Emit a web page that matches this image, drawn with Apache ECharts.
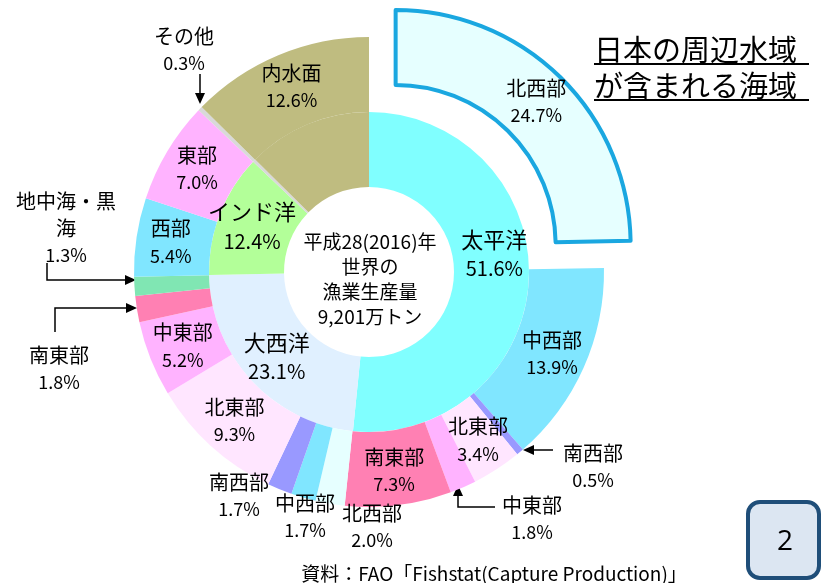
<!DOCTYPE html>
<html><head><meta charset="utf-8">
<script src="https://cdn.jsdelivr.net/npm/echarts@6/dist/echarts.min.js"></script>
<style>html,body{margin:0;padding:0;background:#fff}#c{width:821px;height:583px}</style>
</head><body><div id="c"></div>
<script>
// ---- data ----
const innerNames = ['太平洋', '大西洋', 'インド洋', 'その他', '内水面'];
const innerValues = [51.6, 23.1, 12.4, 0.3, 12.6];
const pacificNames = ['北西部', '中西部', '南西部', '北東部', '中東部', '南東部'];
const pacificValues = [24.7, 13.9, 0.5, 3.4, 1.8, 7.3];
const atlanticNames = ['北西部', '中西部', '南西部', '北東部', '中東部', '南東部', '地中海・黒海'];
const atlanticValues = [2.0, 1.7, 1.7, 9.3, 5.2, 1.8, 1.3];
const indianNames = ['西部', '東部'];
const indianValues = [5.4, 7.0];
const otherName = 'その他', otherValue = 0.3;
const inlandName = '内水面', inlandValue = 12.6;
const centerLines = ['平成28(2016)年', '世界の', '漁業生産量', '9,201万トン'];
const titleLines = ['日本の周辺水域', 'が含まれる海域'];
const sourceText = '資料：FAO「Fishstat(Capture Production)」';
const pageNumber = '2';

// ---- styles ----
const innerColors = {'太平洋': '#80ffff', '大西洋': '#e0f0ff', 'インド洋': '#b3ff99', 'その他': '#d9d9d9', '内水面': '#bfbc80'};
const subColors = {'北西部': '#e6ffff', '中西部': '#80e6ff', '南西部': '#9999ff', '北東部': '#ffe6ff',
  '中東部': '#ffb3ff', '南東部': '#ff80b3', '地中海・黒海': '#80e6b3', '西部': '#80e6ff', '東部': '#ffb3ff'};
const displayName = {'地中海・黒海': '地中海・黒\n海'};
const FONT = "'Noto Sans CJK JP',sans-serif";
const CX = 369, CY = 272;
const extPos = {
  'P-中東部': [532, 519], 'P-南西部': [593, 467],
  'A-北西部': [372, 527], 'A-中西部': [305, 517], 'A-南西部': [239, 496],
  'A-南東部': [59, 369], 'A-地中海・黒海': [66, 228], 'X-その他': [184, 50]
};

const innerData = innerNames.map((n, i) => ({
  name: n, disp: n, value: innerValues[i],
  itemStyle: {color: innerColors[n]},
  label: {show: !(n === 'その他' || n === '内水面')}
}));

const outerData = [];
const addItem = (prefix, n, v, color) => outerData.push({name: prefix + n, disp: n, value: v, itemStyle: {color: color}});
pacificNames.forEach((n, i) => addItem('P-', n, pacificValues[i], subColors[n]));
atlanticNames.forEach((n, i) => addItem('A-', n, atlanticValues[i], subColors[n]));
indianNames.forEach((n, i) => addItem('I-', n, indianValues[i], subColors[n]));
addItem('X-', otherName, otherValue, innerColors['その他']);
addItem('X-', inlandName, inlandValue, innerColors['内水面']);
// Pacific north-west: exploded, framed
const nw = outerData[0];
nw.selected = true;
nw.itemStyle = {color: '#e6ffff', borderColor: '#1aa7e0', borderWidth: 4, borderJoin: 'round'};
nw.select = {itemStyle: {color: '#e6ffff', borderColor: '#1aa7e0', borderWidth: 4}};

const fmt = p => '{n|' + (displayName[p.data.disp] || p.data.disp).split('\n').join('}\n{n|') + '}\n{v|' + p.value.toFixed(1) + '%}';

function arrow(pts) {
  const n = pts.length, tip = pts[n - 1], prev = pts[n - 2];
  const dx = tip[0] - prev[0], dy = tip[1] - prev[1], L = Math.hypot(dx, dy);
  const ux = dx / L, uy = dy / L, hl = 11, hw = 5;
  const base = [tip[0] - ux * hl, tip[1] - uy * hl];
  const line = pts.slice(0, n - 1).concat([base]);
  return [
    {type: 'polyline', shape: {points: line}, style: {stroke: '#000', lineWidth: 1.5, fill: null}, silent: true},
    {type: 'polygon', shape: {points: [tip, [base[0] - uy * hw, base[1] + ux * hw], [base[0] + uy * hw, base[1] - ux * hw]]},
      style: {fill: '#000'}, silent: true}
  ];
}

const graphics = [];
graphics.push({type: 'text', x: CX + 1, y: 279, style: {text: centerLines.join('\n'), font: "19px 'Noto Sans CJK JP'",
  fill: '#000', align: 'center', verticalAlign: 'middle', lineHeight: 25}});
titleLines.forEach((t, i) => {
  graphics.push({type: 'text', x: 594, y: 50 + i * 36, style: {text: t, font: "29px 'Noto Sans CJK JP'", fill: '#000', align: 'left', verticalAlign: 'middle'}});
  graphics.push({type: 'line', shape: {x1: 594, y1: 64 + i * 36, x2: 809, y2: 64 + i * 36}, style: {stroke: '#000', lineWidth: 2}});
});
graphics.push({type: 'text', x: 494, y: 574, style: {text: sourceText, font: "19px 'Noto Sans CJK JP'", fill: '#000', align: 'center', verticalAlign: 'middle'}});
graphics.push({type: 'rect', shape: {x: 748, y: 502, width: 71, height: 76, r: 12}, style: {fill: '#dce6f2', stroke: '#1f4e79', lineWidth: 4}});
graphics.push({type: 'text', x: 785, y: 542, style: {text: pageNumber, font: "28px 'Open Sans'", fill: '#000', align: 'center', verticalAlign: 'middle'}});
[
  [[200, 74], [200, 104]],
  [[47, 263], [47, 280], [136, 280]],
  [[55, 332], [55, 308], [137, 308]],
  [[495, 507], [458, 507], [458, 485]],
  [[553, 450], [523, 450]]
].forEach(p => arrow(p).forEach(g => graphics.push(g)));

const chart = echarts.init(document.getElementById('c'), null, {renderer: 'canvas'});
chart.setOption({
  animation: false,
  backgroundColor: '#fff',
  series: [
    {
      type: 'pie', name: 'inner', radius: [85, 160], center: [CX, CY], startAngle: 90, clockwise: true,
      itemStyle: {borderWidth: 0}, emphasis: {disabled: true}, selectedMode: false,
      label: {position: 'inside', formatter: fmt, fontFamily: FONT, color: '#000',
        rich: {n: {fontFamily: FONT, fontSize: 22, lineHeight: 29, color: '#000'}, v: {fontFamily: FONT, fontSize: 20, lineHeight: 29, color: '#000'}}},
      labelLine: {show: false},
      labelLayout: p => p.dataIndex === 0 ? {dy: -24} : null,
      data: innerData
    },
    {
      type: 'pie', name: 'outer', radius: [160, 235], center: [CX, CY], startAngle: 90, clockwise: true,
      itemStyle: {borderWidth: 0}, emphasis: {disabled: true},
      selectedMode: 'single', selectedOffset: 38,
      label: {position: 'inside', formatter: fmt, fontFamily: FONT, color: '#000',
        rich: {n: {fontFamily: FONT, fontSize: 20, lineHeight: 27, color: '#000'}, v: {fontFamily: FONT, fontSize: 18, lineHeight: 27, color: '#000'}}},
      labelLine: {show: false},
      labelLayout: p => {
        const pos = extPos[outerData[p.dataIndex].name];
        return pos ? {x: pos[0], y: pos[1], align: 'center', verticalAlign: 'middle'} : null;
      },
      data: outerData
    }
  ],
  graphic: graphics
});
</script></body></html>
